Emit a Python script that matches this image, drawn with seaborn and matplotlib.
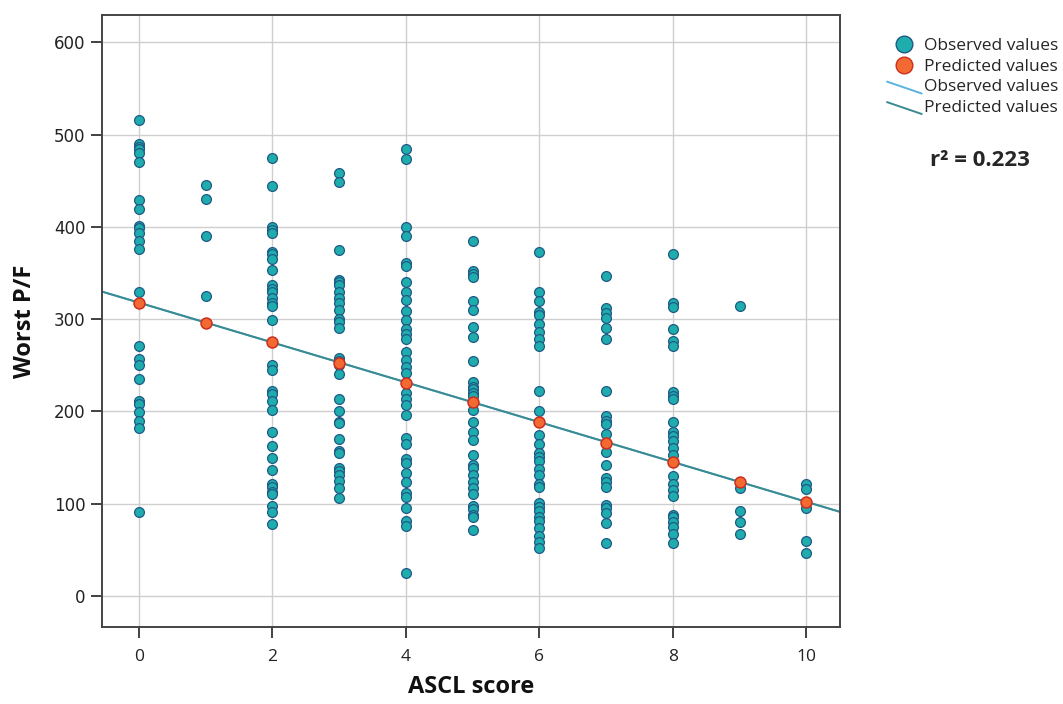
import numpy as np
import pandas as pd
import matplotlib
matplotlib.use("Agg")
import matplotlib.pyplot as plt
from matplotlib.lines import Line2D
from matplotlib.legend_handler import HandlerLine2D
import seaborn as sns

sns.set_theme(style="white")
plt.rcParams['font.family'] = ['Open Sans', 'DejaVu Sans']

# observed Worst P/F per ASCL score
obs_0 = [516, 490, 487, 484, 480, 470, 429, 419, 401, 399, 393, 385, 376, 330,
         271, 257, 250, 235, 211, 208, 199, 190, 182, 91]
obs_1 = [445, 430, 390, 325]
obs_2 = [475, 444, 400, 397, 393, 373, 371, 365, 353, 337, 333, 329, 323, 317,
         314, 299, 250, 245, 222, 219, 211, 202, 178, 162, 150, 137, 121, 118,
         113, 110, 98, 91, 78]
obs_3 = [458, 449, 375, 343, 340, 337, 330, 323, 317, 310, 300, 297, 290, 258,
         255, 250, 241, 214, 200, 189, 187, 170, 157, 155, 139, 135, 131, 125,
         117, 106]
obs_4 = [484, 474, 400, 390, 361, 358, 340, 330, 321, 309, 299, 289, 284, 279,
         264, 256, 248, 242, 220, 214, 207, 196, 171, 165, 148, 144, 133, 124,
         112, 107, 95, 81, 76, 25]
obs_5 = [385, 352, 349, 346, 320, 310, 291, 281, 255, 232, 227, 224, 220, 217,
         201, 189, 178, 169, 153, 142, 139, 131, 123, 117, 110, 98, 94, 88, 85, 71]
obs_6 = [373, 330, 320, 308, 304, 295, 286, 279, 271, 222, 200, 174, 165, 155,
         151, 146, 138, 131, 121, 118, 101, 96, 92, 86, 81, 74, 65, 58, 52]
obs_7 = [347, 312, 307, 301, 290, 279, 222, 195, 190, 186, 175, 156, 142, 128,
         123, 118, 99, 95, 90, 79, 57]
obs_8 = [371, 317, 313, 289, 276, 271, 221, 217, 213, 189, 178, 173, 168, 160,
         153, 130, 121, 115, 108, 88, 85, 80, 75, 67, 57]
obs_9 = [314, 117, 92, 80, 67]
obs_10 = [121, 116, 95, 60, 47]

observed = [obs_0, obs_1, obs_2, obs_3, obs_4, obs_5, obs_6, obs_7, obs_8, obs_9, obs_10]

# predicted values of the linear fit at each score
scores = list(range(11))
predicted = [318, 296, 275, 253, 231, 210, 188, 166, 145, 123, 102]

df_obs = pd.DataFrame({
    "score": [s for s, vals in zip(scores, observed) for _ in vals],
    "pf": [v for vals in observed for v in vals],
})
df_pred = pd.DataFrame({"score": scores, "pf": predicted})

slope = (predicted[-1] - predicted[0]) / (scores[-1] - scores[0])


class DiagLine(HandlerLine2D):
    # SPSS-like slanted line in the legend
    def create_artists(self, legend, orig_handle, xdescent, ydescent,
                       width, height, fontsize, trans):
        x0 = -xdescent
        line = Line2D([x0, x0 + width],
                      [0.8 * height - ydescent, 0.05 * height - ydescent - 2])
        self.update_prop(line, orig_handle, legend)
        line.set_transform(trans)
        return [line]


fig = plt.figure(figsize=(10.63, 7.04), dpi=100)
ax = fig.add_axes([0.096, 0.109, 0.694, 0.870])

ax.axline((0, predicted[0]), slope=slope, color="#5ab4e0", lw=1.4, zorder=2)
ax.axline((0, predicted[0]), slope=slope, color="#3a8a90", lw=1.4, zorder=2)

sns.scatterplot(data=df_obs, x="score", y="pf", ax=ax, s=50, color="#1eacac",
                edgecolor="#1f5a86", linewidth=0.9, zorder=3, legend=False)
sns.scatterplot(data=df_pred, x="score", y="pf", ax=ax, s=62, color="#f26a32",
                edgecolor="#cc2e1e", linewidth=1.1, zorder=4, legend=False)

ax.set_xlim(-0.55, 10.5)
ax.set_ylim(-34, 630)
ax.set_xticks([0, 2, 4, 6, 8, 10])
ax.set_yticks([0, 100, 200, 300, 400, 500, 600])
ax.grid(True, color="#cfcfcf", lw=1.0)
ax.set_axisbelow(True)
for sp in ax.spines.values():
    sp.set_color("#444444")
    sp.set_linewidth(1.4)
ax.tick_params(axis="both", direction="out", length=8, width=1.3, color="#333333",
               bottom=True, left=True)
ax.tick_params(axis="x", pad=8)
ax.tick_params(axis="y", pad=4)
for lab in ax.get_yticklabels():
    lab.set_family(["DejaVu Sans"])
    lab.set_fontsize(12)
    lab.set_color("#222222")
for lab in ax.get_xticklabels():
    lab.set_fontsize(12.5)
    lab.set_color("#222222")

ax.set_xlabel("ASCL score", fontsize=17, fontweight="bold", labelpad=7, color="#111111")
ax.set_ylabel("Worst P/F", fontsize=17, fontweight="bold", labelpad=12, color="#111111")

handles = [
    Line2D([], [], marker="o", ls="none", markersize=12, markerfacecolor="#1eacac",
           markeredgecolor="#1f5a86"),
    Line2D([], [], marker="o", ls="none", markersize=12, markerfacecolor="#f26a32",
           markeredgecolor="#cc2e1e"),
    Line2D([], [], color="#5ab4e0", lw=1.4),
    Line2D([], [], color="#3a8a90", lw=1.4),
]
labels = ["Observed values", "Predicted values", "Observed values", "Predicted values"]
fig.legend(handles, labels, loc="upper left", bbox_to_anchor=(0.823, 0.963),
           frameon=False, fontsize=12.5, handlelength=2.0, handletextpad=0.12,
           labelspacing=0.25, borderpad=0.2,
           handler_map={handles[2]: DiagLine(), handles[3]: DiagLine()})

fig.text(0.922, 0.772, "r² = 0.223", fontsize=16, fontweight="bold",
         ha="center", va="center")

fig.savefig("out.png", dpi=100)
